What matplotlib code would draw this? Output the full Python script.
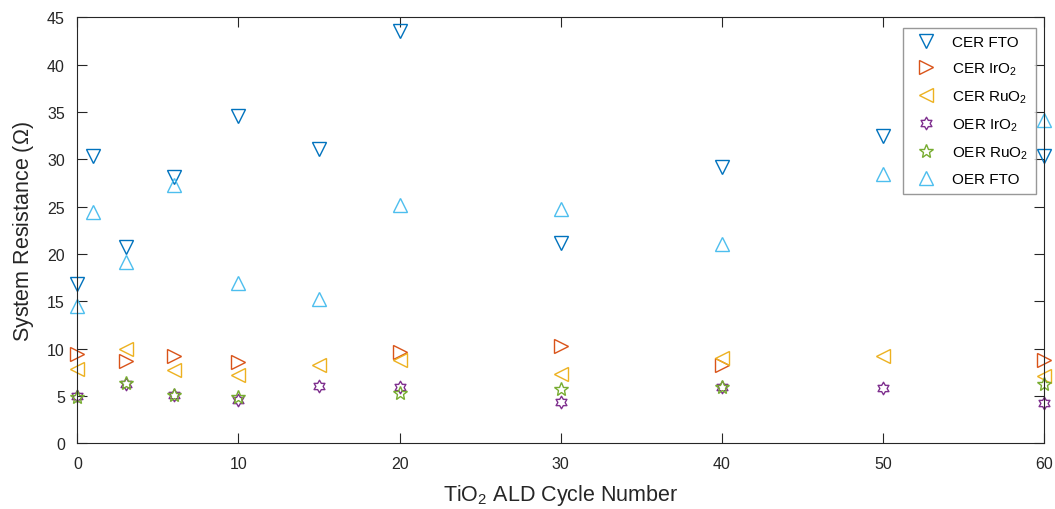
import numpy as np
import matplotlib
matplotlib.use("Agg")
import matplotlib.pyplot as plt
from matplotlib.path import Path

plt.rcParams['font.family'] = ['Liberation Sans', 'DejaVu Sans']
plt.rcParams['mathtext.fontset'] = 'custom'
plt.rcParams['mathtext.rm'] = 'Liberation Sans'
plt.rcParams['mathtext.it'] = 'Liberation Sans:italic'

# TiO2 ALD cycle numbers
cycles = [0, 1, 3, 6, 10, 15, 20, 30, 40, 50, 60]

cer_fto_x = [0, 1, 3, 6, 10, 15, 20, 30, 40, 50, 60]
cer_fto = [16.8, 30.4, 20.7, 28.1, 34.6, 31.1, 43.6, 21.2, 29.2, 32.5, 30.3]

cer_iro2_x = [0, 3, 6, 10, 20, 30, 40, 60]
cer_iro2 = [9.4, 8.7, 9.2, 8.6, 9.6, 10.3, 8.3, 8.8]

cer_ruo2_x = [0, 3, 6, 10, 15, 20, 30, 40, 50, 60]
cer_ruo2 = [7.85, 10.0, 7.7, 7.2, 8.3, 8.8, 7.3, 9.0, 9.2, 7.1]

oer_iro2_x = [0, 3, 6, 10, 15, 20, 30, 40, 50, 60]
oer_iro2 = [5.0, 6.3, 5.1, 4.6, 6.05, 5.9, 4.4, 6.0, 5.8, 4.3]

oer_ruo2_x = [0, 3, 6, 10, 20, 30, 40, 60]
oer_ruo2 = [4.9, 6.4, 5.1, 4.9, 5.3, 5.7, 5.9, 6.3]

oer_fto_x = [0, 1, 3, 6, 10, 15, 20, 30, 40, 50, 60]
oer_fto = [14.5, 24.4, 19.1, 27.3, 16.9, 15.2, 25.2, 24.8, 21.1, 28.5, 34.2]

# six-pointed star marker (MATLAB hexagram)
ang = np.pi / 2 + np.arange(12) * np.pi / 6
rad = np.where(np.arange(12) % 2 == 0, 1.0, 0.577)
hexagram = Path(np.column_stack([rad * np.cos(ang), rad * np.sin(ang)]).tolist() + [[0, 1]], closed=True)

fig = plt.figure(figsize=(10.55, 5.10), dpi=100)
ax = fig.add_axes([0.0733, 0.1288, 0.9165, 0.8353])

kw = dict(linestyle='none', markerfacecolor='none', markeredgewidth=1.0, clip_on=False)
ax.plot(cer_fto_x, cer_fto, marker='v', markersize=10, color='#0072BD', label='CER FTO', **kw)
ax.plot(cer_iro2_x, cer_iro2, marker='>', markersize=10, color='#D95319', label='CER IrO$_2$', **kw)
ax.plot(cer_ruo2_x, cer_ruo2, marker='<', markersize=10, color='#EDB120', label='CER RuO$_2$', **kw)
ax.plot(oer_iro2_x, oer_iro2, marker=hexagram, markersize=9, color='#7E2F8E', label='OER IrO$_2$', **kw)
ax.plot(oer_ruo2_x, oer_ruo2, marker='*', markersize=10, color='#77AC30', label='OER RuO$_2$', **kw)
ax.plot(oer_fto_x, oer_fto, marker='^', markersize=10, color='#4DBEEE', label='OER FTO', **kw)

ax.set_xlim(0, 60)
ax.set_ylim(0, 45)
ax.set_xticks(np.arange(0, 61, 10))
ax.set_yticks(np.arange(0, 46, 5))
ax.tick_params(direction='in', top=True, right=True, length=7, width=0.8,
               labelsize=11.5, colors='#262626', pad=9)
for s in ax.spines.values():
    s.set_color('#262626')
    s.set_linewidth(0.8)

ax.set_xlabel('TiO$_2$ ALD Cycle Number', fontsize=15.5, color='#262626', labelpad=8)
ax.set_ylabel('System Resistance ($\\Omega$)', fontsize=15.5, color='#262626', labelpad=8)

leg = ax.legend(loc='upper right', bbox_to_anchor=(0.991, 0.976), fontsize=11,
                frameon=True, fancybox=False, edgecolor='#7f7f7f', borderpad=0.5,
                labelspacing=0.75, handletextpad=0.7, handlelength=2.0, borderaxespad=0)
leg.get_frame().set_linewidth(1.0)
leg.set_zorder(5)

fig.savefig('out.png', dpi=100)
